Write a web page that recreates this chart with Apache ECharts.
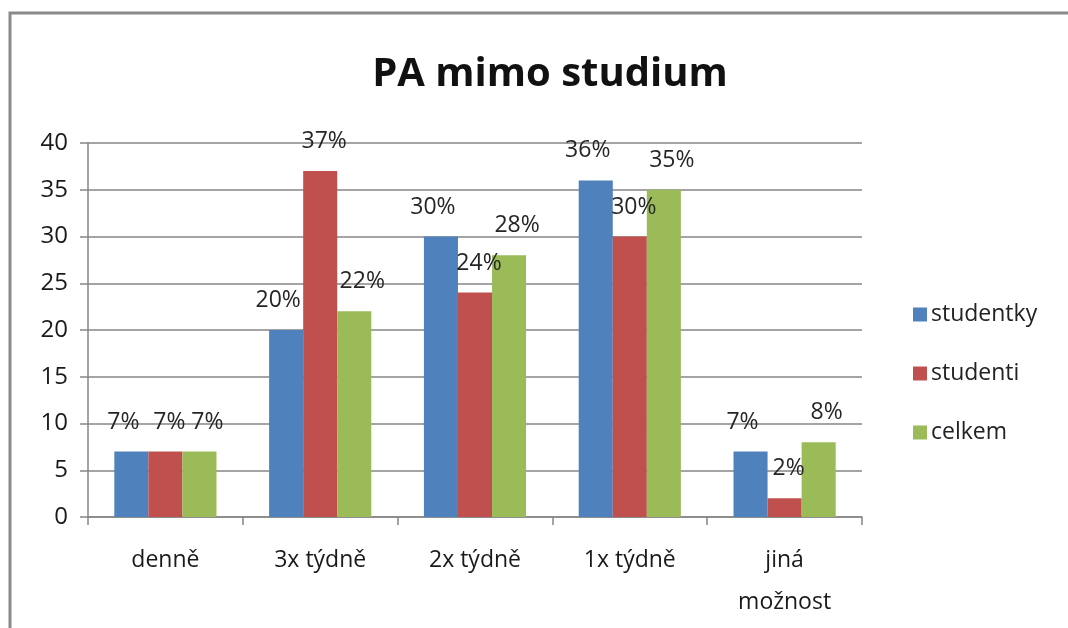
<!DOCTYPE html>
<html>
<head>
<meta charset="utf-8">
<script src="https://cdn.jsdelivr.net/npm/echarts@6/dist/echarts.min.js"></script>
<style>
  html, body { margin: 0; padding: 0; background: #fff; }
  #chart { width: 1068px; height: 628px; }
</style>
</head>
<body>
<div id="chart"></div>
<script>
// data
var categories = ["denně", "3x týdně", "2x týdně", "1x týdně", "jiná\nmožnost"];
var studentky = [7, 20, 30, 36, 7];
var studenti = [7, 37, 24, 30, 2];
var celkem = [7, 22, 28, 35, 8];
var seriesNames = ["studentky", "studenti", "celkem"];
var yTicks = [0, 5, 10, 15, 20, 25, 30, 35, 40];

var colors = ["#4F81BD", "#C0504D", "#9BBB59"];
var font = "'Open Sans', 'Liberation Sans', sans-serif";

function makeSeries(name, values, color, dx) {
  return {
    name: name,
    type: "bar",
    data: values,
    barGap: "0%",
    barCategoryGap: "34%",
    itemStyle: { color: color },
    label: {
      show: true,
      position: "top",
      distance: 18,
      offset: [dx, 0],
      formatter: "{c}%",
      fontFamily: font,
      fontSize: 23,
      color: "#262626"
    }
  };
}

var chart = echarts.init(document.getElementById("chart"));
chart.setOption({
  animation: false,
  backgroundColor: "#fff",
  graphic: [
    {
      type: "rect",
      shape: { x: 10, y: 13, width: 1100, height: 700 },
      style: { fill: "none", stroke: "#8a8a8a", lineWidth: 3 }
    }
  ],
  title: {
    text: "PA mimo studium",
    left: 545,
    top: 50,
    textAlign: "center",
    textStyle: { fontFamily: font, fontSize: 40, fontWeight: "bold", color: "#111" }
  },
  legend: {
    orient: "vertical",
    left: 908,
    top: 298,
    itemWidth: 14,
    itemHeight: 14,
    itemGap: 36,
    icon: "rect",
    textStyle: { fontFamily: font, fontSize: 23, color: "#222", padding: [0, 0, 0, -1] },
    data: seriesNames
  },
  grid: { left: 88, right: 206, top: 143, bottom: 111 },
  xAxis: {
    type: "category",
    data: categories,
    axisLine: { lineStyle: { color: "#868686", width: 1.5 } },
    axisTick: { show: true, length: 8, lineStyle: { color: "#868686", width: 1.5 } },
    axisLabel: {
      fontFamily: font,
      fontSize: 23,
      color: "#1a1a1a",
      margin: 22,
      lineHeight: 42
    }
  },
  yAxis: {
    type: "value",
    min: yTicks[0],
    max: yTicks[yTicks.length - 1],
    interval: 5,
    axisLine: { show: true, lineStyle: { color: "#868686", width: 1.5 } },
    axisTick: { show: true, length: 8, lineStyle: { color: "#868686", width: 1.5 } },
    splitLine: { lineStyle: { color: "#868686", width: 1.5 } },
    axisLabel: { fontFamily: font, fontSize: 24, color: "#1a1a1a", margin: 20 }
  },
  series: [
    makeSeries(seriesNames[0], studentky, colors[0], -8),
    makeSeries(seriesNames[1], studenti, colors[1], 4),
    makeSeries(seriesNames[2], celkem, colors[2], 8)
  ]
});
</script>
</body>
</html>
